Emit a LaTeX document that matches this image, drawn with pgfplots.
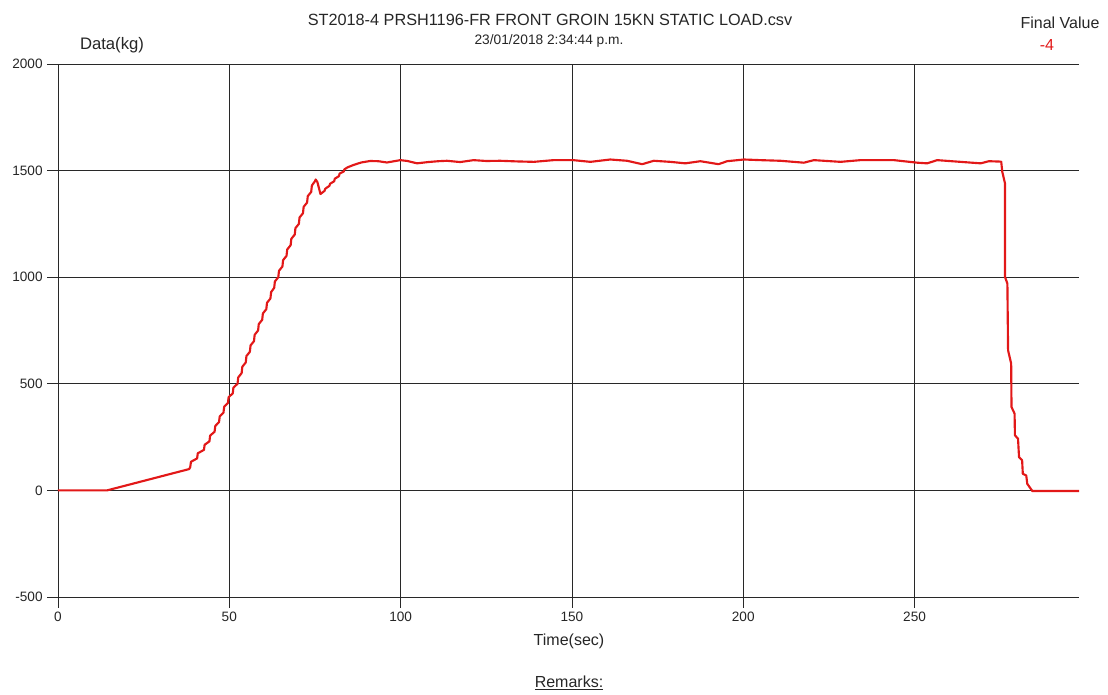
\documentclass[border=0pt]{standalone}
\usepackage{pgfplots}
\pgfplotsset{compat=1.18}
\usepackage{fontspec}
\setmainfont{Liberation Sans}
\definecolor{trace}{RGB}{226,24,24}
\definecolor{gridc}{RGB}{40,40,40}

\begin{document}
\begin{tikzpicture}[x=1pt,y=1pt]
\useasboundingbox (-43.5,-73.5) rectangle (787.5,447.75);
\begin{axis}[
  at={(0,0)}, anchor=south west,
  scale only axis, width=765.75pt, height=399.75pt,
  xmin=0, xmax=298, ymin=-500, ymax=2000,
  xtick={0,50,...,250}, ytick={-500,0,...,2000},
  axis x line=bottom, axis y line=left,
  axis line style={-, gridc, line width=0.7pt},
  grid=major, grid style={gridc, line width=0.6pt},
  tick align=outside, major tick length=8pt,
  tick style={gridc, line width=0.6pt},
  ticklabel style={font=\fontsize{10.2}{12}\selectfont, text=black!85},
  /pgf/number format/assume math mode=true,
  /pgf/number format/1000 sep={},
  scaled ticks=false]
% load trace, kg against seconds
\addplot[trace, line width=1.6pt, line join=round] coordinates {
(0,0)(14.3,0)(38.3,100)
(38.6,110)(38.8,134)(40.6,150)(40.8,174)(42.6,190)(42.8,214)
(44.2,230)(44.4,257)(45.7,275)(45.9,302)(47.0,320)(47.2,347)
(48.3,365)(48.5,392)(49.6,410)(49.8,437)(51.0,455)(51.2,482)
(52.4,500)(52.6,530)(53.6,550)(53.8,580)(54.8,600)(55.0,630)
(56.0,650)(56.2,680)(57.2,700)(57.4,730)(58.4,750)(58.6,780)
(59.6,800)(59.8,830)(60.8,850)(61.0,880)(62.0,900)(62.2,930)
(63.1,950)(63.3,980)(64.3,1000)(64.5,1030)(65.5,1050)(65.7,1080)
(66.7,1100)(66.9,1130)(67.9,1150)(68.1,1180)(69.1,1200)(69.3,1230)
(70.3,1250)(70.5,1280)(71.5,1300)(71.7,1330)(72.7,1350)(72.9,1380)
(73.9,1400)(74.1,1430)(75.0,1450)(75.2,1458)(75.7,1447)(76.6,1390)
(77.8,1405)(78.0,1415)(79.2,1428)(79.4,1438)(80.6,1450)(80.8,1462)
(82.0,1474)(82.2,1486)(83.4,1496)(83.6,1506)(84.5,1515)(86.2,1526)
(88.5,1538)(91.1,1545)(93.5,1544)(96,1538)(99.9,1549)(102,1545)
(104.8,1534)(108,1540)(111,1544)(113.5,1546)(117.4,1540)(121.3,1549)
(125,1545)(129.1,1546)(134,1543)(138.9,1541)(144.6,1549)(150.4,1549)
(155.4,1541)(161.2,1552)(166.1,1546)(170.5,1530)(173.9,1546)(178.7,1541)
(183.1,1534)(187.5,1544)(192.8,1530)(195.3,1544)(200.2,1552)(205,1549)
(210.9,1546)(217.7,1537)(220.6,1549)(228.4,1541)(234.2,1549)(244,1549)
(250.8,1537)(253.7,1534)(256.6,1549)(263.4,1541)(269.3,1534)(271.7,1544)
(275.3,1542)(275.6,1495)(276.4,1440)(276.4,1001)(277.1,970)(277.3,657)
(278.2,595)(278.3,391)(279.2,360)(279.3,258)(280.2,243)(280.5,156)
(281.4,141)(281.6,78)(282.6,70)(282.9,31)(283.9,8)(284.4,-3)
(290,-3)(298,-3)};
\end{axis}
\node[font=\fontsize{12.2}{14}\selectfont, text=black!85] at (369,432.75) {ST2018-4 PRSH1196-FR FRONT GROIN 15KN STATIC LOAD.csv};
\node[font=\fontsize{10.3}{12}\selectfont, text=black!85] at (368.25,417) {23/01/2018 2:34:44 p.m.};
\node[font=\fontsize{12.5}{14}\selectfont, text=black!85] at (40.5,414) {Data(kg)};
\node[font=\fontsize{12}{14}\selectfont, text=black!85] at (751.5,430.5) {Final Value};
\node[font=\fontsize{12}{14}\selectfont, text=trace] at (741.75,414) {-4};
\node[font=\fontsize{12}{14}\selectfont, text=black!85] at (383.25,-33.5) {Time(sec)};
\node[font=\fontsize{12}{14}\selectfont, text=black!85] at (383.25,-64.5) {\underline{Remarks:}};
\end{tikzpicture}
\end{document}
